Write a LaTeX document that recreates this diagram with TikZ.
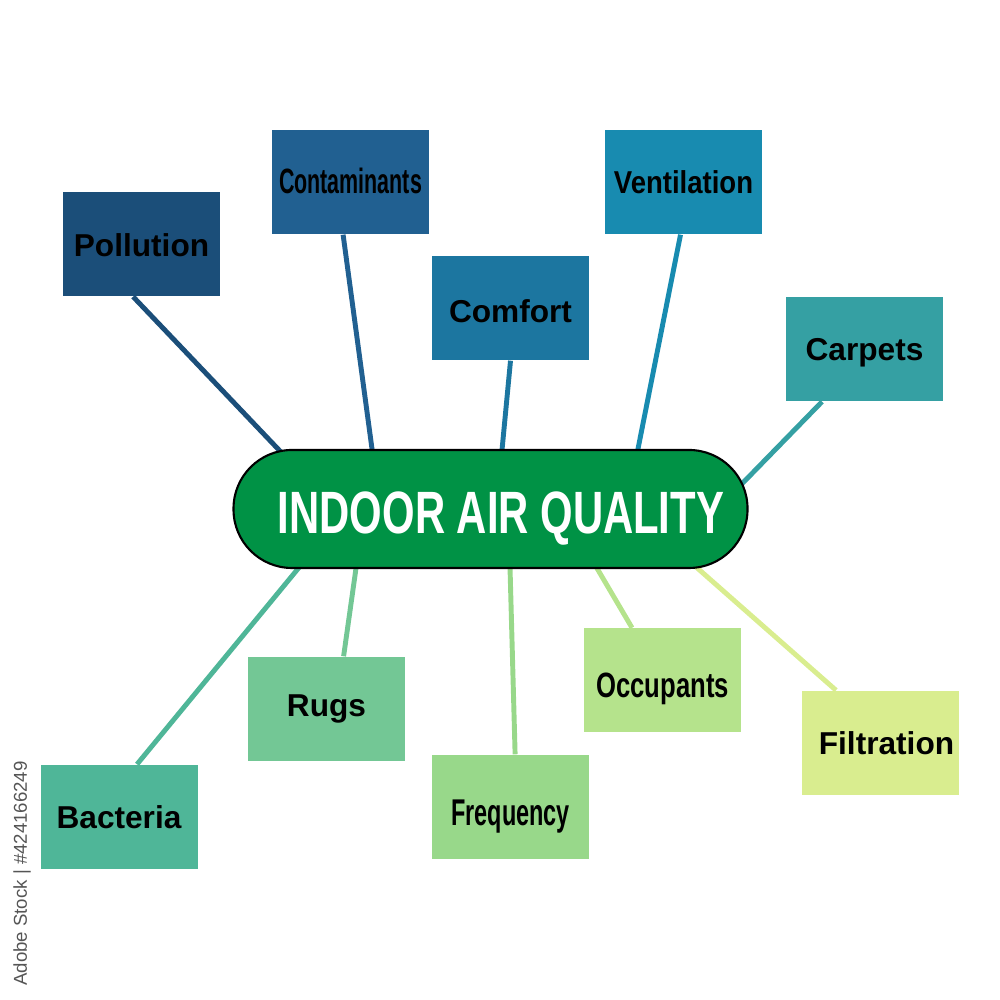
\documentclass[tikz,border=0pt]{standalone}
\usepackage{fontspec}
\setmainfont{Liberation Sans}
\usepackage{graphicx}
\usetikzlibrary{positioning}

\definecolor{hubgreen}{RGB}{0,146,69}
\definecolor{pollcol}{RGB}{27,78,121}
\definecolor{contcol}{RGB}{33,96,145}
\definecolor{comfcol}{RGB}{28,118,160}
\definecolor{ventcol}{RGB}{24,139,176}
\definecolor{carpcol}{RGB}{53,160,163}
\definecolor{bactcol}{RGB}{79,182,152}
\definecolor{rugscol}{RGB}{115,199,149}
\definecolor{freqcol}{RGB}{152,216,138}
\definecolor{occucol}{RGB}{181,227,140}
\definecolor{filtcol}{RGB}{217,237,143}
\definecolor{wmgrey}{RGB}{85,85,85}

\pgfdeclarelayer{bg}
\pgfsetlayers{bg,main}
\newcommand{\narrowtxt}[2]{\scalebox{#1}[1]{#2}}

\begin{document}
\begin{tikzpicture}[
    topic/.style={rectangle, fill=#1, minimum width=1.57cm, minimum height=1.04cm,
        inner sep=0pt, text height=6.5pt, text depth=0pt,
        font=\fontsize{9}{9}\selectfont\bfseries},
    link/.style={draw=#1, line width=1.4pt},
    hubbox/.style={rectangle, rounded corners=0.585cm, fill=hubgreen, draw=black,
        line width=0.6pt, minimum width=5.14cm, minimum height=1.18cm, inner sep=0pt,
        text=white, text height=14.2pt, text depth=0pt,
        font=\fontsize{17}{17}\selectfont\bfseries},
    on grid
  ]
  \useasboundingbox (0,0) rectangle (10,10);
  %% centre
  \node[hubbox] (hub) at (4.905,4.91) {\hspace*{0.21cm}\narrowtxt{0.70}{INDOOR AIR QUALITY}};
  %% upper topics
  \node[topic=pollcol, above left =2.65cm and 3.49cm of hub, text height=7.4pt] (pollution) {Pollution};
  \node[topic=contcol, above left =3.27cm and 1.40cm of hub] (contaminants) {\narrowtxt{0.61}{\fontsize{10}{10}\selectfont Contaminants}};
  \node[topic=comfcol, above right =2.01cm and 0.20cm of hub, text height=8pt] (comfort) {Comfort};
  \node[topic=ventcol, above right =3.27cm and 1.93cm of hub] (ventilation) {\narrowtxt{0.87}{Ventilation}};
  \node[topic=carpcol, above right =1.60cm and 3.74cm of hub] (carpets) {Carpets};
  %% lower topics
  \node[topic=bactcol, below left =3.08cm and 3.715cm of hub] (bacteria) {Bacteria};
  \node[topic=rugscol, below left =2.00cm and 1.64cm of hub, text height=4.4pt] (rugs) {Rugs};
  \node[topic=freqcol, below right =2.98cm and 0.20cm of hub, text height=10.7pt] (frequency) {\narrowtxt{0.63}{\fontsize{10.6}{10.6}\selectfont Frequency}};
  \node[topic=occucol, below right =1.715cm and 1.72cm of hub, text height=9.7pt] (occupants) {\narrowtxt{0.73}{\fontsize{10}{10}\selectfont Occupants}};
  \node[topic=filtcol, below right =2.34cm and 3.90cm of hub] (filtration) {\hspace*{0.12cm}Filtration};
  % stock id at the left edge
  \node[rotate=90, text=wmgrey, inner sep=0pt, font=\fontsize{5.3}{5.3}\selectfont] (stockid) at (0.22,1.265) {Adobe Stock | \#424166249};
  % links to the centre
  \begin{pgfonlayer}{bg}
    \draw[link=pollcol] ([xshift=-0.084cm]pollution.south) -- ([xshift=-1.935cm,yshift=-0.2cm]hub.north);
    \draw[link=contcol] ([xshift=-0.074cm]contaminants.south) -- ([xshift=-1.158cm,yshift=-0.2cm]hub.north);
    \draw[link=comfcol] (comfort.south) -- ([xshift=0.097cm,yshift=-0.2cm]hub.north);
    \draw[link=ventcol] ([xshift=-0.03cm]ventilation.south) -- ([xshift=1.435cm,yshift=-0.2cm]hub.north);
    \draw[link=carpcol] ([xshift=-0.425cm]carpets.south) -- ([xshift=-0.175cm,yshift=0.14cm]hub.east);
    \draw[link=bactcol] ([xshift=0.18cm]bacteria.north) -- ([xshift=-1.763cm,yshift=0.2cm]hub.south);
    \draw[link=rugscol] ([xshift=0.171cm]rugs.north) -- ([xshift=-1.318cm,yshift=0.2cm]hub.south);
    \draw[link=freqcol] ([xshift=0.046cm]frequency.north) -- ([xshift=0.19cm,yshift=0.2cm]hub.south);
    \draw[link=occucol] ([xshift=-0.305cm]occupants.north) -- ([xshift=0.952cm,yshift=0.2cm]hub.south);
    \draw[link=filtcol] ([xshift=-0.445cm]filtration.north) -- ([xshift=1.852cm,yshift=0.2cm]hub.south);
  \end{pgfonlayer}
\end{tikzpicture}
\end{document}
